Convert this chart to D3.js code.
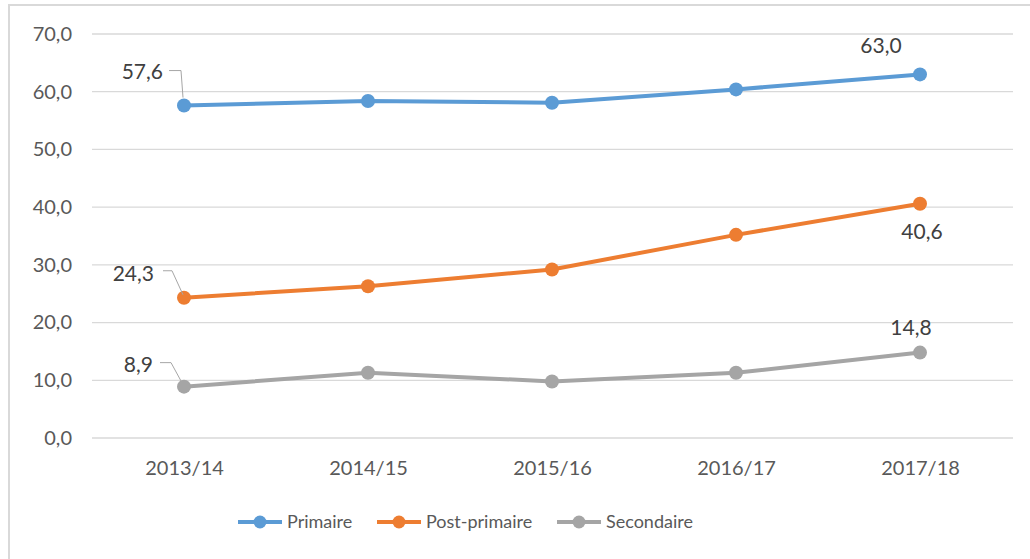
<!DOCTYPE html>
<html><head><meta charset="utf-8">
<script src="https://cdn.jsdelivr.net/npm/d3@7"></script>
<style>body{margin:0;background:#fff;overflow:hidden}svg{display:block}</style>
</head><body><svg id="c" width="1030" height="559"></svg>
<script>
const categories = ["2013/14","2014/15","2015/16","2016/17","2017/18"];
const seriesNames = ["Primaire","Post-primaire","Secondaire"];
const primaire = [57.6, 58.4, 58.1, 60.4, 63.0];
const postPrimaire = [24.3, 26.3, 29.2, 35.2, 40.6];
const secondaire = [8.9, 11.3, 9.8, 11.3, 14.8];
const yTicks = [0,10,20,30,40,50,60,70];
const colors = ["#5b9bd5","#ed7d31","#a5a5a5"];
const seriesValues = [primaire, postPrimaire, secondaire];

const svg = d3.select("#c");
const font = "Lato, 'Open Sans', sans-serif";
// frame
svg.append("rect").attr("x",9).attr("y",5).attr("width",1040).attr("height",600)
  .attr("fill","#fff").attr("stroke","#d9d9d9").attr("stroke-width",2);

const x = d3.scalePoint().domain(categories).range([92,1012]).padding(0.5);
const y = d3.scaleLinear().domain([0,70]).range([438,34]);

// gridlines
svg.append("g").selectAll("line").data(yTicks).join("line")
  .attr("x1",92).attr("x2",1013).attr("y1",d=>y(d)).attr("y2",d=>y(d))
  .attr("stroke","#d9d9d9").attr("stroke-width",1.3);

const fmt = v => v.toFixed(1).replace(".",",");
const yAxis = svg.append("g").attr("transform","translate(92,0)")
  .call(d3.axisLeft(y).tickValues(yTicks).tickFormat(fmt).tickSize(0).tickPadding(20));
yAxis.select(".domain").remove();
yAxis.selectAll("text").attr("font-family",font).attr("font-size",20).attr("fill","#595959");

const xAxis = svg.append("g").attr("transform","translate(0,438)")
  .call(d3.axisBottom(x).tickSize(0).tickPadding(23));
xAxis.select(".domain").remove();
xAxis.selectAll("text").attr("font-family",font).attr("font-size",20).attr("fill","#595959");

const line = d3.line().x((d,i)=>x(categories[i])).y(d=>y(d));
seriesValues.forEach((vals,s)=>{
  svg.append("path").datum(vals).attr("d",line).attr("fill","none")
    .attr("stroke",colors[s]).attr("stroke-width",4).attr("stroke-linejoin","round");
  svg.append("g").selectAll("circle").data(vals).join("circle")
    .attr("cx",(d,i)=>x(categories[i])).attr("cy",d=>y(d)).attr("r",7).attr("fill",colors[s]);
});

// data labels
const labels = [
  {s:0,i:0,dx:-21,dy:-34,anchor:"end",leader:[[-15,-35],[-3,-35],[-1,-8]]},
  {s:1,i:0,dx:-30,dy:-24,anchor:"end",leader:[[-21,-27],[-12,-27],[-1,-3]]},
  {s:2,i:0,dx:-31,dy:-22,anchor:"end",leader:[[-24,-24],[-13,-24],[-1,-2]]},
  {s:0,i:4,dx:-39,dy:-29,anchor:"middle"},
  {s:1,i:4,dx:2,dy:28,anchor:"middle"},
  {s:2,i:4,dx:-9,dy:-25,anchor:"middle"}
];
labels.forEach(l=>{
  const v = seriesValues[l.s][l.i];
  const px = x(categories[l.i]), py = y(v);
  const tx = px + l.dx, ty = py + l.dy;
  if(l.leader){
    svg.append("polyline")
      .attr("points",l.leader.map(p=>`${px+p[0]},${py+p[1]}`).join(" "))
      .attr("fill","none").attr("stroke","#a6a6a6").attr("stroke-width",1);
  }
  svg.append("text").attr("x",tx).attr("y",ty).attr("dy","0.35em")
    .attr("text-anchor",l.anchor).attr("font-family",font).attr("font-size",21)
    .attr("fill","#404040").text(fmt(v));
});

// legend
const legendX = [238,377,557];
const lg = svg.append("g");
seriesNames.forEach((n,s)=>{
  const lx = legendX[s], ly = 522;
  lg.append("line").attr("x1",lx).attr("x2",lx+44).attr("y1",ly).attr("y2",ly)
    .attr("stroke",colors[s]).attr("stroke-width",4);
  lg.append("circle").attr("cx",lx+22).attr("cy",ly).attr("r",6.5).attr("fill",colors[s]);
  lg.append("text").attr("x",lx+49).attr("y",ly).attr("dy","0.35em")
    .attr("font-family",font).attr("font-size",18).attr("fill","#595959").text(n);
});
</script></body></html>
